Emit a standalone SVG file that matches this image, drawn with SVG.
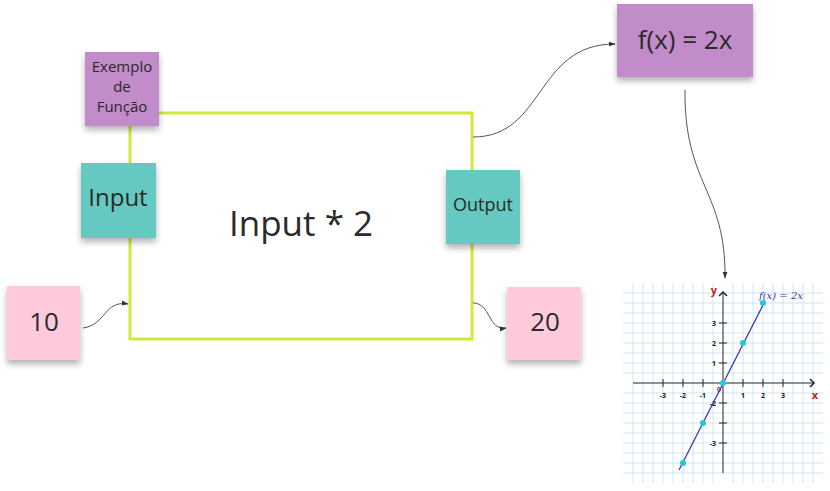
<svg xmlns="http://www.w3.org/2000/svg" width="830" height="491" viewBox="0 0 830 491">
<defs>
<style>
.t{font-family:"Open Sans","Noto Sans",sans-serif;fill:#2a2a2a;text-anchor:middle}
.c{fill:none;stroke:#555;stroke-width:1}
.g{stroke:#cfe3f0;stroke-width:1}
.tk{font-family:"Open Sans","DejaVu Sans",sans-serif;font-size:7px;font-weight:bold;fill:#222;text-anchor:middle}
.rd{fill:#cc2222}
.pt{fill:#22c8dc}
</style>
<filter id="sh" x="-20%" y="-20%" width="140%" height="150%">
<feDropShadow dx="0" dy="4" stdDeviation="3" flood-color="#000" flood-opacity="0.3"/>
</filter>
<marker id="ar" viewBox="0 0 10 10" refX="9" refY="5" markerWidth="7" markerHeight="7" orient="auto">
<path d="M0,1.5 L10,5 L0,8.5 Z" fill="#333"/>
</marker>
</defs>
<rect width="830" height="491" fill="#fff"/>

<g id="main-box">
<rect x="130" y="113" width="342" height="226" fill="none" stroke="#d2e83a" stroke-width="3"/>
<text class="t" x="301" y="236" font-size="35">Input * 2</text>
</g>

<g id="connectors">
<path class="c" d="M83,328 C106,325 104,300 128,304" marker-end="url(#ar)"/>
<path class="c" d="M473,303 C491,303 488,331 506,328" marker-end="url(#ar)"/>
<path class="c" d="M473,137 C545,137 535,44 615,44" marker-end="url(#ar)"/>
<path class="c" d="M685,90 C684,185 726,190 725,278" marker-end="url(#ar)"/>
</g>

<g id="note-exemplo">
<rect x="85" y="52" width="74" height="74" fill="#c28bc9" filter="url(#sh)"/>
<text class="t" x="122" y="72" font-size="15">Exemplo</text>
<text class="t" x="122" y="92" font-size="15">de</text>
<text class="t" x="122" y="112" font-size="15">Função</text>
</g>

<g id="note-input">
<rect x="81" y="163" width="75" height="75" fill="#66c9c1" filter="url(#sh)"/>
<text class="t" x="118" y="206" font-size="24">Input</text>
</g>

<g id="note-output">
<rect x="446" y="170" width="74" height="74" fill="#66c9c1" filter="url(#sh)"/>
<text class="t" x="483" y="211" font-size="18">Output</text>
</g>

<g id="note-10">
<rect x="7" y="286" width="73" height="74" fill="#ffcbdc" filter="url(#sh)"/>
<text class="t" x="44" y="331" font-size="26">10</text>
</g>

<g id="note-20">
<rect x="507" y="287" width="74" height="73" fill="#ffcbdc" filter="url(#sh)"/>
<text class="t" x="545" y="331" font-size="26">20</text>
</g>

<g id="note-fx">
<rect x="617" y="4" width="136" height="73" fill="#c28bc9" filter="url(#sh)"/>
<text class="t" x="685" y="49" font-size="26">f(x) = 2x</text>
</g>

<g id="graph">
<rect x="623" y="283" width="200" height="200" fill="#fff"/>
<g class="g">
<path d="M623,293H823M623,303H823M623,313H823M623,323H823M623,333H823M623,343H823M623,353H823M623,363H823M623,373H823M623,393H823M623,403H823M623,413H823M623,423H823M623,433H823M623,443H823M623,453H823M623,463H823M623,473H823"/>
<path d="M633,283V483M643,283V483M653,283V483M663,283V483M673,283V483M683,283V483M693,283V483M703,283V483M713,283V483M733,283V483M743,283V483M753,283V483M763,283V483M773,283V483M783,283V483M793,283V483M803,283V483M813,283V483"/>
</g>
<path d="M633,383H813M723,473V293" stroke="#222" stroke-width="1"/>
<path d="M810,379 L814,383 L810,387 M719,296 L723,292 L727,296" fill="none" stroke="#222" stroke-width="1.5"/>
<path d="M663,379V387M683,379V387M703,379V387M743,379V387M763,379V387M783,379V387M719,323H727M719,343H727M719,363H727M719,403H727M719,423H727M719,443H727" stroke="#222" stroke-width="1"/>
<text class="tk" x="663" y="398">-3</text>
<text class="tk" x="683" y="398">-2</text>
<text class="tk" x="703" y="398">-1</text>
<text class="tk" x="743" y="398">1</text>
<text class="tk" x="763" y="398">2</text>
<text class="tk" x="783" y="398">3</text>
<text class="tk" x="714" y="326">3</text>
<text class="tk" x="714" y="346">2</text>
<text class="tk" x="714" y="366">1</text>
<text class="tk" x="713" y="406">-2</text>
<text class="tk" x="713" y="446">-3</text>
<text class="tk rd" x="719" y="392">0</text>
<text class="tk rd" x="714" y="294" style="font-size:11px">y</text>
<text class="tk rd" x="815" y="399" style="font-size:11px">x</text>
<text x="759" y="299" font-family="'DejaVu Serif',serif" font-style="italic" font-size="10" fill="#3a3ab0">f(x) = 2x</text>
<path d="M679,470 L764,303" stroke="#3a3ab8" stroke-width="1.3"/>
<circle class="pt" cx="683" cy="463" r="3"/>
<circle class="pt" cx="703" cy="423" r="3"/>
<circle class="pt" cx="723" cy="383" r="3"/>
<circle class="pt" cx="743" cy="343" r="3"/>
<circle class="pt" cx="763" cy="303" r="3"/>
</g>
</svg>
